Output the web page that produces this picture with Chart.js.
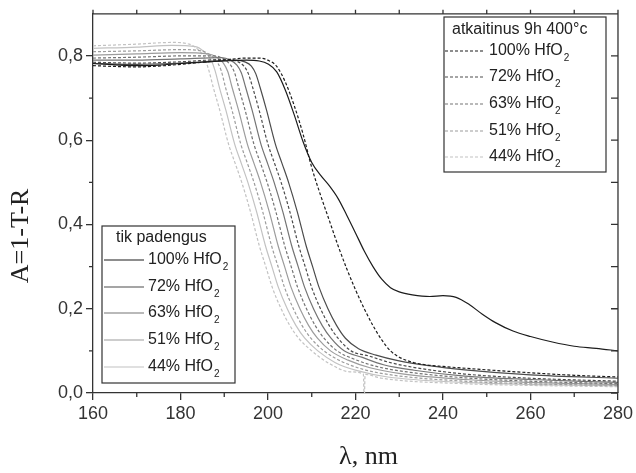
<!DOCTYPE html>
<html>
<head>
<meta charset="utf-8">
<script src="https://cdn.jsdelivr.net/npm/chart.js@4.4.0/dist/chart.umd.min.js"></script>
<style>
  html, body { margin:0; padding:0; background:#fff; }
  #wrap { width:636px; height:473px; }
</style>
</head>
<body>
<div id="wrap"><canvas id="chart" width="636" height="473"></canvas></div>
<script>
// A=1-T-R spectra of HfO2 films as [wavelength nm, A] pairs
const xTicks = [160, 180, 200, 220, 240, 260, 280];
const xMinorTicks = [170, 190, 210, 230, 250, 270];
const yTicks = [0, 0.2, 0.4, 0.6, 0.8];
const yMinorTicks = [0.1, 0.3, 0.5, 0.7];
const concentrations = ['100% HfO', '72% HfO', '63% HfO', '51% HfO', '44% HfO'];

// tik padengus (as deposited, solid lines)
const asDep100 = [[160,0.782],[165,0.779],[170,0.777],[175,0.778],[180,0.782],[185,0.785],[190,0.788],[195,0.79],[198,0.788],[200,0.781],[202,0.762],[204,0.718],[206,0.66],[208,0.597],[210,0.547],[212,0.517],[214,0.492],[216,0.462],[218,0.422],[220,0.38],[222,0.337],[224,0.3],[226,0.27],[228,0.25],[230,0.24],[233,0.233],[237,0.229],[240,0.231],[243,0.227],[246,0.21],[249,0.187],[252,0.167],[256,0.147],[260,0.134],[265,0.121],[270,0.111],[275,0.106],[280,0.1]];
const asDep72 = [[160,0.782],[170,0.78],[180,0.783],[192.7,0.79],[194.7,0.786],[196.2,0.776],[197.2,0.758],[198.2,0.725],[199.7,0.67],[201.7,0.59],[203.2,0.545],[204.7,0.5],[206.7,0.43],[208.7,0.35],[210.2,0.3],[211.7,0.25],[213.7,0.2],[215.7,0.16],[217.7,0.13],[220.7,0.105],[224.7,0.09],[229.7,0.077],[236.7,0.065],[245,0.055],[260,0.043],[280,0.035]];
const asDep63 = [[160,0.79],[170,0.79],[180,0.793],[189.4,0.796],[191.4,0.79],[192.9,0.778],[193.9,0.76],[194.9,0.725],[196.4,0.67],[198.4,0.59],[199.9,0.545],[201.4,0.5],[203.4,0.43],[205.4,0.35],[206.9,0.3],[208.4,0.25],[210.4,0.2],[212.4,0.16],[214.4,0.13],[217.4,0.1],[221.4,0.085],[226.4,0.067],[233.4,0.054],[245,0.04],[260,0.032],[280,0.025]];
const asDep51 = [[160,0.802],[170,0.805],[180,0.808],[186.3,0.805],[188.3,0.797],[189.8,0.783],[190.8,0.763],[191.8,0.725],[193.3,0.67],[195.3,0.59],[196.8,0.545],[198.3,0.5],[200.3,0.43],[202.3,0.35],[203.8,0.3],[205.3,0.25],[207.3,0.2],[209.3,0.16],[211.3,0.13],[214.3,0.1],[218.3,0.078],[223.3,0.06],[230.3,0.046],[245,0.032],[260,0.025],[280,0.02]];
const asDep44 = [[160,0.818],[170,0.821],[178,0.825],[183.4,0.822],[185.4,0.81],[186.9,0.792],[187.9,0.765],[188.9,0.725],[190.4,0.67],[192.4,0.59],[193.9,0.545],[195.4,0.5],[197.4,0.43],[199.4,0.35],[200.9,0.3],[202.4,0.25],[204.4,0.2],[206.4,0.16],[208.4,0.13],[211.4,0.1],[215.4,0.072],[220.4,0.053],[227.4,0.038],[245,0.025],[260,0.02],[280,0.017]];

// atkaitinus 9h 400°C (annealed, dashed lines)
const ann100 = [[160,0.777],[165,0.775],[170,0.774],[175,0.776],[180,0.78],[185,0.785],[190,0.79],[195,0.795],[198,0.795],[200,0.79],[202,0.775],[204,0.737],[206,0.682],[208,0.615],[210,0.535],[212,0.47],[214,0.41],[216,0.35],[218,0.295],[220,0.245],[222,0.2],[224,0.16],[226,0.126],[228,0.1],[230,0.085],[233,0.073],[236,0.067],[240,0.063],[250,0.055],[260,0.048],[270,0.042],[280,0.038]];
const ann72 = [[160,0.785],[170,0.783],[180,0.786],[191,0.792],[193,0.787],[194.5,0.776],[195.5,0.758],[196.5,0.725],[198,0.67],[200,0.59],[201.5,0.545],[203,0.5],[205,0.43],[207,0.35],[208.5,0.3],[210,0.25],[212,0.2],[214,0.16],[216,0.13],[219,0.1],[223,0.088],[228,0.072],[235,0.058],[245,0.045],[260,0.035],[280,0.028]];
const ann63 = [[160,0.795],[170,0.797],[180,0.8],[187.8,0.8],[189.8,0.793],[191.3,0.78],[192.3,0.762],[193.3,0.725],[194.8,0.67],[196.8,0.59],[198.3,0.545],[199.8,0.5],[201.8,0.43],[203.8,0.35],[205.3,0.3],[206.8,0.25],[208.8,0.2],[210.8,0.16],[212.8,0.13],[215.8,0.1],[219.8,0.08],[224.8,0.063],[231.8,0.05],[245,0.036],[260,0.028],[280,0.022]];
const ann51 = [[160,0.81],[170,0.812],[180,0.815],[184.8,0.812],[186.8,0.802],[188.3,0.787],[189.3,0.765],[190.3,0.725],[191.8,0.67],[193.8,0.59],[195.3,0.545],[196.8,0.5],[198.8,0.43],[200.8,0.35],[202.3,0.3],[203.8,0.25],[205.8,0.2],[207.8,0.16],[209.8,0.13],[212.8,0.1],[216.8,0.075],[221.8,0.056],[228.8,0.042],[245,0.028],[260,0.022],[280,0.018]];
const ann44 = [[160,0.824],[170,0.828],[178,0.832],[182,0.828],[184,0.815],[185.5,0.795],[186.5,0.765],[187.5,0.725],[189,0.67],[191,0.59],[192.5,0.545],[194,0.5],[196,0.43],[198,0.35],[199.5,0.3],[201,0.25],[203,0.2],[205,0.16],[207,0.13],[210,0.1],[214,0.07],[219,0.05],[221.8,0.045],[222,-0.02],[222.2,0.044],[226,0.035],[245,0.022],[260,0.018],[280,0.015]];

const solidSeries = [asDep100, asDep72, asDep63, asDep51, asDep44];
const dashedSeries = [ann100, ann72, ann63, ann51, ann44];
const shades = ['#1c1c1c', '#4c4c4c', '#747474', '#9c9c9c', '#c2c2c2'];
const DASH = [3, 2];

function fmt(v){ return v.toFixed(1).replace('.', ','); }

// index 0 is drawn last, so darkest series go first
const datasets = [];
for(let i=0;i<5;i++){
  datasets.push({ label: concentrations[i] + '2 as deposited', data: solidSeries[i], borderColor: shades[i], borderWidth: 1.2 });
  datasets.push({ label: concentrations[i] + '2 annealed', data: dashedSeries[i], borderColor: shades[i], borderWidth: 1.2, borderDash: DASH });
}
datasets.forEach(d => { d.pointRadius = 0; d.fill = false; d.cubicInterpolationMode = 'monotone'; });

const legendBoxes = [
  { title: 'tik padengus', dashed: false, left: 102, top: 226, right: 235, bottom: 383,
    titleX: 116, titleY: 238, lineX0: 104, lineX1: 144, textX: 148, rowY: [260, 287, 313, 340, 367] },
  { title: 'atkaitinus 9h 400°c', dashed: true, left: 444, top: 17, right: 606, bottom: 172,
    titleX: 452, titleY: 30, lineX0: 445, lineX1: 485, textX: 489, rowY: [51, 77, 104, 131, 157] }
];

const boxLegends = {
  id: 'boxLegends',
  afterDatasetsDraw(chart){
    const ctx = chart.ctx;
    ctx.save();
    legendBoxes.forEach(b => {
      ctx.fillStyle = '#fff';
      ctx.fillRect(b.left, b.top, b.right - b.left, b.bottom - b.top);
      ctx.strokeStyle = '#333'; ctx.lineWidth = 1.2; ctx.setLineDash([]);
      ctx.strokeRect(b.left, b.top, b.right - b.left, b.bottom - b.top);
      ctx.fillStyle = '#222';
      ctx.textBaseline = 'middle';
      ctx.font = '16px "Liberation Sans", Arial, sans-serif';
      ctx.fillText(b.title, b.titleX, b.titleY);
      concentrations.forEach((c, i) => {
        const y = b.rowY[i];
        ctx.strokeStyle = shades[i]; ctx.lineWidth = 1.2;
        ctx.setLineDash(b.dashed ? DASH : []);
        ctx.beginPath(); ctx.moveTo(b.lineX0, y); ctx.lineTo(b.lineX1, y); ctx.stroke();
        ctx.setLineDash([]);
        ctx.fillStyle = '#222';
        ctx.font = '16px "Liberation Sans", Arial, sans-serif';
        ctx.fillText(c, b.textX, y);
        const w = ctx.measureText(c).width;
        ctx.font = '10px "Liberation Sans", Arial, sans-serif';
        ctx.fillText('2', b.textX + w + 1, y + 7);
      });
    });
    ctx.restore();
  }
};

// top/right frame and the minor / mirrored tick marks
const frameTicks = {
  id: 'frameTicks',
  afterDraw(chart){
    const {ctx, chartArea: a, scales: {x, y}} = chart;
    ctx.save();
    ctx.strokeStyle = '#333'; ctx.lineWidth = 1.3;
    ctx.beginPath();
    ctx.moveTo(a.left, a.top); ctx.lineTo(a.right, a.top); ctx.lineTo(a.right, a.bottom);
    xMinorTicks.forEach(v => { const px = x.getPixelForValue(v); ctx.moveTo(px, a.bottom); ctx.lineTo(px, a.bottom + 4); });
    yMinorTicks.forEach(v => { const py = y.getPixelForValue(v); ctx.moveTo(a.left, py); ctx.lineTo(a.left - 4, py); });
    xTicks.concat(xMinorTicks).forEach(v => { const px = x.getPixelForValue(v); ctx.moveTo(px, a.top); ctx.lineTo(px, a.top - 4); });
    yTicks.concat(yMinorTicks).forEach(v => { const py = y.getPixelForValue(v); ctx.moveTo(a.right, py); ctx.lineTo(a.right - 7, py); });
    ctx.stroke();
    ctx.restore();
  }
};

const tickFont = { family: '"Liberation Sans", Arial, sans-serif', size: 18 };
const titleFont = { family: '"Liberation Serif", "Times New Roman", serif', size: 26 };
const NB = '\u00a0';

new Chart(document.getElementById('chart'), {
  type: 'line',
  data: { datasets },
  plugins: [boxLegends, frameTicks],
  options: {
    responsive: false,
    animation: false,
    layout: { padding: { top: 8, right: 18, left: 0, bottom: 0 } },
    plugins: { legend: { display: false }, tooltip: { enabled: false } },
    scales: {
      x: {
        type: 'linear', min: 160, max: 280,
        afterBuildTicks: s => { s.ticks = xTicks.map(v => ({ value: v })); },
        afterFit: s => { s.height = 80; },
        ticks: { font: tickFont, color: '#333', padding: 3 },
        grid: { drawOnChartArea: false, drawTicks: true, tickLength: 7, color: '#333', lineWidth: 1.3 },
        border: { color: '#333', width: 1.3 },
        title: { display: true, text: NB.repeat(4) + 'λ, nm', font: titleFont, color: '#222', padding: { top: 0, bottom: 0 } }
      },
      y: {
        type: 'linear', min: 0, max: 0.9,
        afterBuildTicks: s => { s.ticks = yTicks.map(v => ({ value: v })); },
        afterFit: s => { s.width = 93; },
        ticks: { font: tickFont, color: '#333', padding: 3, callback: v => fmt(v) },
        grid: { drawOnChartArea: false, drawTicks: true, tickLength: 7, color: '#333', lineWidth: 1.3 },
        border: { color: '#333', width: 1.3 },
        title: { display: true, text: 'A=1-T-R' + NB.repeat(10), font: titleFont, color: '#222', padding: { top: 6, bottom: 0 } }
      }
    }
  }
});
</script>
</body>
</html>
